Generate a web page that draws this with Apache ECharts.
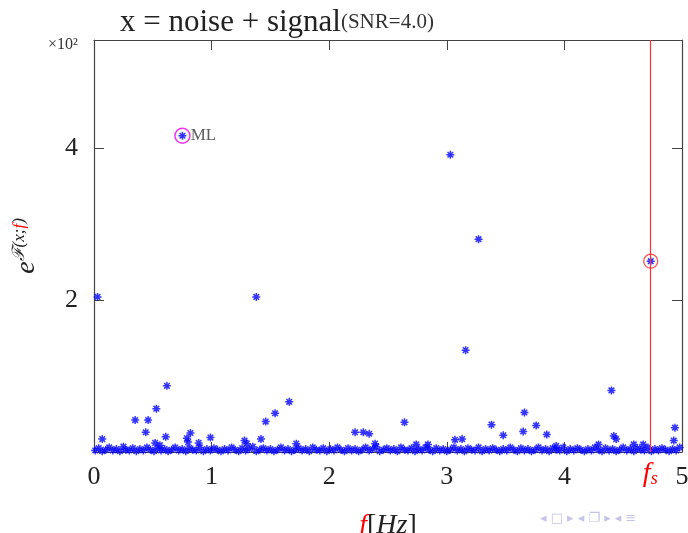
<!DOCTYPE html>
<html>
<head>
<meta charset="utf-8">
<script src="https://cdn.jsdelivr.net/npm/echarts@6/dist/echarts.min.js"></script>
<style>
  html, body { margin: 0; padding: 0; background: #fff; }
  #chart { width: 688px; height: 533px; }
</style>
</head>
<body>
<div id="chart"></div>
<script>
// tick labels
var xTicks = [0, 1, 2, 3, 4, 5];
var yTickLabels = { 200: '2', 400: '4' };

// marked points
var mlPoint = [0.752, 416];
var fsPoint = [4.734, 251];

// larger values above the noise floor
var peaks = [
  [0.03, 204], [0.07, 17], [0.35, 42], [0.46, 42], [0.44, 26], [0.53, 57],
  [0.62, 87], [0.61, 20], [0.52, 12], [0.56, 9], [0.82, 25], [0.79, 18],
  [0.80, 13], [0.89, 12], [0.99, 19], [1.28, 15], [1.30, 11], [1.38, 204],
  [1.42, 17], [1.46, 40], [1.54, 51], [1.66, 66], [1.72, 11], [2.22, 26],
  [2.29, 26], [2.34, 24], [2.39, 11], [2.64, 39], [2.74, 10], [2.84, 10],
  [3.03, 391], [3.07, 16], [3.13, 17], [3.16, 134], [3.27, 280], [3.38, 36],
  [3.48, 22], [3.66, 52], [3.65, 27], [3.76, 35], [3.85, 23], [3.93, 8],
  [4.29, 10], [4.40, 81], [4.42, 21], [4.44, 17], [4.59, 10], [4.67, 10],
  [4.94, 32], [4.93, 15]
];

// noise floor
var floor = [
  [0.01,2],[0.04,5],[0.07,1],[0.10,3],[0.13,6],[0.16,2],[0.19,4],[0.22,1],[0.25,7],[0.27,3],
  [0.30,2],[0.33,5],[0.36,1],[0.39,4],[0.42,2],[0.45,6],[0.48,3],[0.51,1],[0.54,5],[0.57,2],
  [0.60,4],[0.63,1],[0.66,3],[0.69,6],[0.72,2],[0.75,4],[0.78,1],[0.81,5],[0.84,3],[0.87,2],
  [0.90,6],[0.93,1],[0.96,4],[0.99,2],[1.02,5],[1.05,3],[1.08,1],[1.11,4],[1.14,2],[1.17,6],
  [1.20,3],[1.23,1],[1.26,5],[1.29,2],[1.32,4],[1.35,7],[1.38,1],[1.41,3],[1.44,5],[1.47,2],
  [1.50,4],[1.53,1],[1.56,3],[1.59,6],[1.62,2],[1.65,4],[1.68,1],[1.71,3],[1.74,5],[1.77,2],
  [1.80,4],[1.83,1],[1.86,6],[1.89,3],[1.92,2],[1.95,5],[1.98,1],[2.01,4],[2.04,2],[2.07,6],
  [2.10,3],[2.13,1],[2.16,5],[2.19,2],[2.22,4],[2.25,1],[2.28,3],[2.31,6],[2.34,2],[2.37,4],
  [2.40,7],[2.43,1],[2.46,3],[2.49,5],[2.52,2],[2.55,4],[2.58,1],[2.61,6],[2.64,3],[2.67,2],
  [2.70,5],[2.73,1],[2.76,4],[2.79,2],[2.82,6],[2.85,3],[2.88,1],[2.91,5],[2.94,2],[2.97,4],
  [3.00,1],[3.03,3],[3.06,6],[3.09,2],[3.12,4],[3.15,1],[3.18,5],[3.21,3],[3.24,2],[3.27,6],
  [3.30,1],[3.33,4],[3.36,2],[3.39,5],[3.42,3],[3.45,1],[3.48,4],[3.51,2],[3.54,6],[3.57,3],
  [3.60,1],[3.63,5],[3.66,2],[3.69,4],[3.72,1],[3.75,3],[3.78,6],[3.81,2],[3.84,4],[3.87,1],
  [3.90,5],[3.93,3],[3.96,2],[3.99,6],[4.02,1],[4.05,4],[4.08,2],[4.11,5],[4.14,3],[4.17,1],
  [4.20,4],[4.23,2],[4.26,6],[4.29,3],[4.32,1],[4.35,5],[4.38,2],[4.41,4],[4.44,1],[4.47,3],
  [4.50,6],[4.53,2],[4.56,4],[4.59,1],[4.62,5],[4.65,3],[4.68,2],[4.71,6],[4.74,1],[4.77,4],
  [4.80,2],[4.83,5],[4.86,3],[4.89,1],[4.92,4],[4.95,2],[4.98,6]
];

var chart = echarts.init(document.getElementById('chart'));

var serif = 'Liberation Serif';
var axisColor = '#444';
// asterisk marker drawn as strokes
var star = 'path://M0,5L10,5M5,0L5,10M1.5,1.5L8.5,8.5M8.5,1.5L1.5,8.5';
var starStyle = { color: 'rgba(0,0,0,0)', borderColor: '#0000ff', borderWidth: 1.5 };
// box frame: no axis snaps to zero, ticks point into the plot
var line = { show: true, onZero: false, lineStyle: { color: axisColor, width: 1.2 } };
var tick = { show: true, inside: true, length: 10, lineStyle: { color: axisColor } };

var option = {
  animation: false,
  title: {
    left: 115,
    top: 2,
    text: '{a|x = noise + signal}{b|(SNR=4.0)}',
    textStyle: {
      rich: {
        a: { fontFamily: serif, fontWeight: 'normal', fontSize: 31, color: '#222' },
        b: { fontFamily: serif, fontWeight: 'normal', fontSize: 21, color: '#333' }
      }
    }
  },
  grid: { left: 94, right: 6, top: 40, bottom: 81, outerBoundsMode: 'none', containLabel: false },
  xAxis: [
    {
      type: 'value',
      position: 'bottom',
      min: 0, max: 5, interval: 1,
      splitLine: { show: false },
      axisLine: line,
      axisTick: tick,
      axisLabel: {
        margin: 12, fontFamily: serif, fontSize: 26, color: '#222',
        formatter: function (v) { return xTicks.indexOf(v) >= 0 ? String(v) : ''; }
      },
      name: '{f|f}{b|[}{i|Hz}{b|]}',
      nameLocation: 'middle',
      nameGap: 60,
      nameTextStyle: {
        rich: {
          f: { fontFamily: serif, fontStyle: 'italic', fontSize: 28, color: '#ff0000' },
          b: { fontFamily: serif, fontSize: 28, color: '#222' },
          i: { fontFamily: serif, fontStyle: 'italic', fontSize: 28, color: '#222' }
        }
      }
    },
    {
      type: 'value',
      position: 'top',
      min: 0, max: 5, interval: 1,
      splitLine: { show: false },
      axisLine: line,
      axisTick: tick,
      axisLabel: { show: false }
    }
  ],
  yAxis: [
    {
      type: 'value',
      position: 'left',
      min: 0, max: 542, interval: 200,
      splitLine: { show: false },
      axisLine: line,
      axisTick: tick,
      axisLabel: {
        margin: 16, fontFamily: serif, fontSize: 26, color: '#222',
        formatter: function (v) { return yTickLabels[v] || ''; }
      },
      name: '{e|e}{s|ℱ(x;}{r|f}{s|)}',
      nameLocation: 'middle',
      nameGap: 52,
      nameTextStyle: {
        rich: {
          e: { fontFamily: serif, fontStyle: 'italic', fontSize: 28, color: '#222' },
          s: { fontFamily: serif, fontStyle: 'italic', fontSize: 17, color: '#222', padding: [0, 0, 14, 0] },
          r: { fontFamily: serif, fontStyle: 'italic', fontSize: 17, color: '#ff0000', padding: [0, 0, 14, 0] }
        }
      }
    },
    {
      type: 'value',
      position: 'right',
      min: 0, max: 542, interval: 200,
      splitLine: { show: false },
      axisLine: line,
      axisTick: tick,
      axisLabel: { show: false }
    }
  ],
  series: [
    {
      name: 'floor',
      type: 'scatter',
      symbol: star,
      symbolSize: 8,
      itemStyle: starStyle,
      data: floor
    },
    {
      name: 'peaks',
      type: 'scatter',
      symbol: star,
      symbolSize: 8,
      itemStyle: starStyle,
      data: peaks.concat([mlPoint, fsPoint])
    },
    {
      name: 'ML',
      type: 'scatter',
      symbol: 'circle',
      symbolSize: 15,
      itemStyle: { color: 'rgba(0,0,0,0)', borderColor: '#ee00ee', borderWidth: 1.5 },
      label: {
        show: true, position: 'right', distance: 0, formatter: 'ML',
        fontFamily: serif, fontSize: 17, color: '#333'
      },
      data: [mlPoint]
    },
    {
      name: 'fs',
      type: 'scatter',
      symbol: 'circle',
      symbolSize: 14,
      itemStyle: { color: 'rgba(0,0,0,0)', borderColor: '#ff2020', borderWidth: 1.3 },
      data: [fsPoint],
      markLine: {
        silent: true,
        symbol: 'none',
        lineStyle: { color: '#ff3030', width: 1.2, type: 'solid' },
        label: {
          show: true, position: 'start', distance: 8,
          formatter: '{f|f}{s|s}',
          rich: {
            f: { fontFamily: serif, fontStyle: 'italic', fontSize: 28, color: '#ff0000' },
            s: { fontFamily: serif, fontStyle: 'italic', fontSize: 18, color: '#ff0000', padding: [10, 0, 0, 0] }
          }
        },
        data: [{ xAxis: fsPoint[0] }]
      }
    }
  ],
  graphic: [
    {
      type: 'text', left: 48, top: 37,
      style: { text: '×10²', font: '16px "Liberation Serif"', fill: '#333' }
    },
    {
      type: 'text', left: 540, top: 512,
      style: { text: '◂ □ ▸ ◂ ❐ ▸ ◂ ≡', font: '13px "DejaVu Sans"', fill: '#c4c4e6' }
    }
  ]
};

chart.setOption(option);
</script>
</body>
</html>
